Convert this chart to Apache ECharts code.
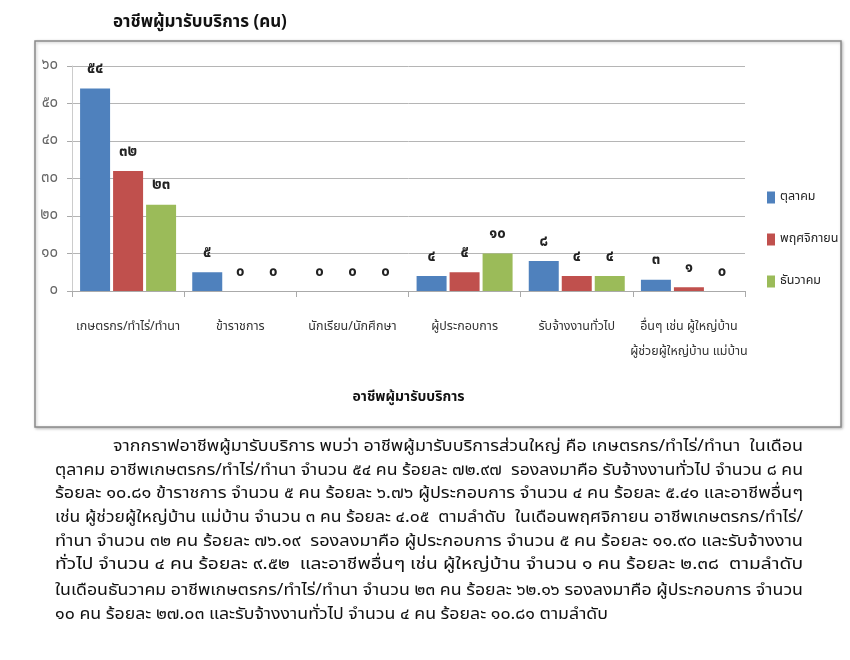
<!DOCTYPE html>
<html lang="th">
<head>
    <meta charset="UTF-8">
    <title>อาชีพผู้มารับบริการ</title>
    <script src="https://cdn.jsdelivr.net/npm/echarts@6/dist/echarts.min.js"></script>
    <style>
        html, body { margin: 0; padding: 0; background: #fff; }
        #container { width: 850px; height: 660px; }
    </style>
</head>
<body>
<div id="container"></div>
<script>
    var categories = [
        'เกษตรกร/ทำไร่/ทำนา',
        'ข้าราชการ',
        'นักเรียน/นักศึกษา',
        'ผู้ประกอบการ',
        'รับจ้างงานทั่วไป',
        'อื่นๆ เช่น ผู้ใหญ่บ้าน\nผู้ช่วยผู้ใหญ่บ้าน แม่บ้าน'
    ];
    var months = ['ตุลาคม', 'พฤศจิกายน', 'ธันวาคม'];
    var october = [54, 5, 0, 4, 8, 3];
    var november = [32, 0, 0, 5, 4, 1];
    var december = [23, 0, 0, 10, 4, 0];
    var colors = ['#4F81BD', '#C0504D', '#9BBB59'];

    var paragraph = [
        'จากกราฟอาชีพผู้มารับบริการ พบว่า อาชีพผู้มารับบริการส่วนใหญ่ คือ เกษตรกร/ทำไร่/ทำนา  ในเดือน',
        'ตุลาคม อาชีพเกษตรกร/ทำไร่/ทำนา จำนวน ๕๔ คน ร้อยละ ๗๒.๙๗  รองลงมาคือ รับจ้างงานทั่วไป จำนวน ๘ คน',
        'ร้อยละ ๑๐.๘๑ ข้าราชการ จำนวน ๕ คน ร้อยละ ๖.๗๖ ผู้ประกอบการ จำนวน ๔ คน ร้อยละ ๕.๔๑ และอาชีพอื่นๆ',
        'เช่น ผู้ช่วยผู้ใหญ่บ้าน แม่บ้าน จำนวน ๓ คน ร้อยละ ๔.๐๕  ตามลำดับ  ในเดือนพฤศจิกายน อาชีพเกษตรกร/ทำไร่/',
        'ทำนา จำนวน ๓๒ คน ร้อยละ ๗๖.๑๙  รองลงมาคือ ผู้ประกอบการ จำนวน ๕ คน ร้อยละ ๑๑.๙๐ และรับจ้างงาน',
        'ทั่วไป จำนวน ๔ คน ร้อยละ ๙.๕๒  และอาชีพอื่นๆ เช่น ผู้ใหญ่บ้าน จำนวน ๑ คน ร้อยละ ๒.๓๘  ตามลำดับ',
        'ในเดือนธันวาคม อาชีพเกษตรกร/ทำไร่/ทำนา จำนวน ๒๓ คน ร้อยละ ๖๒.๑๖ รองลงมาคือ ผู้ประกอบการ จำนวน',
        '๑๐ คน ร้อยละ ๒๗.๐๓ และรับจ้างงานทั่วไป จำนวน ๔ คน ร้อยละ ๑๐.๘๑ ตามลำดับ'
    ];
    var lineY = [448, 472, 495, 519, 543, 566, 592, 616];
    var lineLeft = [113, 55, 55, 55, 55, 55, 55, 55];
    var lineRight = [803, 803, 803, 803, 803, 803, 803, 608];

    var thaiFont = '"Noto Sans Thai", "Noto Sans", "DejaVu Sans", sans-serif';
    var paraFont = '16px ' + thaiFont;

    // เลขอารบิก -> เลขไทย
    function thaiDigits(v) {
        return String(v).replace(/[0-9]/g, function (d) {
            return '๐๑๒๓๔๕๖๗๘๙'.charAt(+d);
        });
    }

    // วัดความกว้างข้อความ เพื่อจัดชิดขอบแบบเอกสาร
    var measureCtx = document.createElement('canvas').getContext('2d');
    measureCtx.font = paraFont;

    var myChart = echarts.init(document.getElementById('container'));

    var seriesData = [october, november, december];
    var series = months.map(function (name, i) {
        return {
            name: name,
            type: 'bar',
            data: seriesData[i],
            barWidth: 30,
            barGap: '10%',
            itemStyle: { color: colors[i] },
            label: {
                show: true,
                position: 'top',
                distance: 11,
                fontWeight: 'bold',
                fontSize: 15,
                color: '#222',
                fontFamily: thaiFont,
                formatter: function (p) { return thaiDigits(p.value); }
            }
        };
    });

    var graphics = [
        {
            type: 'rect',
            shape: { x: 35, y: 41, width: 806, height: 386 },
            style: {
                fill: '#fff', stroke: '#8a8a8a', lineWidth: 1.5,
                shadowBlur: 3, shadowColor: 'rgba(0,0,0,0.25)', shadowOffsetX: 1, shadowOffsetY: 1
            },
            z: -10
        },
        {
            type: 'text',
            left: 113,
            top: 15,
            style: {
                text: 'อาชีพผู้มารับบริการ (คน)',
                font: 'bold 17px ' + thaiFont,
                fill: '#111'
            }
        }
    ];
    paragraph.forEach(function (line, i) {
        var w = measureCtx.measureText(line).width;
        graphics.push({
            type: 'text',
            x: lineLeft[i],
            y: lineY[i],
            scaleX: (lineRight[i] - lineLeft[i]) / w,
            style: {
                text: line,
                font: paraFont,
                fill: '#111',
                textVerticalAlign: 'middle'
            }
        });
    });

    myChart.setOption({
        backgroundColor: '#fff',
        animation: false,
        grid: { left: 72, right: 105, top: 66, bottom: 369 },
        legend: {
            orient: 'vertical',
            left: 762,
            top: 186,
            itemWidth: 8,
            itemHeight: 12,
            itemGap: 29,
            icon: 'rect',
            textStyle: { fontSize: 12.5, color: '#222', fontFamily: thaiFont },
            data: months
        },
        xAxis: {
            type: 'category',
            data: categories,
            name: 'อาชีพผู้มารับบริการ',
            nameLocation: 'middle',
            nameGap: 100,
            nameTextStyle: { fontWeight: 'bold', fontSize: 14, color: '#111', fontFamily: thaiFont },
            axisLine: { lineStyle: { color: '#aaa' } },
            axisTick: { show: true, length: 6, lineStyle: { color: '#aaa' } },
            axisLabel: {
                interval: 0,
                margin: 24,
                fontSize: 12.5,
                color: '#333',
                lineHeight: 25,
                verticalAlign: 'top',
                fontFamily: thaiFont
            }
        },
        yAxis: {
            type: 'value',
            min: 0,
            max: 60,
            interval: 10,
            axisLine: { show: true, lineStyle: { color: '#ccc' } },
            axisTick: { show: true, length: 5, lineStyle: { color: '#aaa' } },
            splitLine: { lineStyle: { color: '#b5b5b5' } },
            axisLabel: {
                margin: 14,
                fontSize: 15,
                color: '#666',
                fontFamily: thaiFont,
                formatter: function (v) { return thaiDigits(v); }
            }
        },
        series: series,
        graphic: graphics
    });
</script>
</body>
</html>
